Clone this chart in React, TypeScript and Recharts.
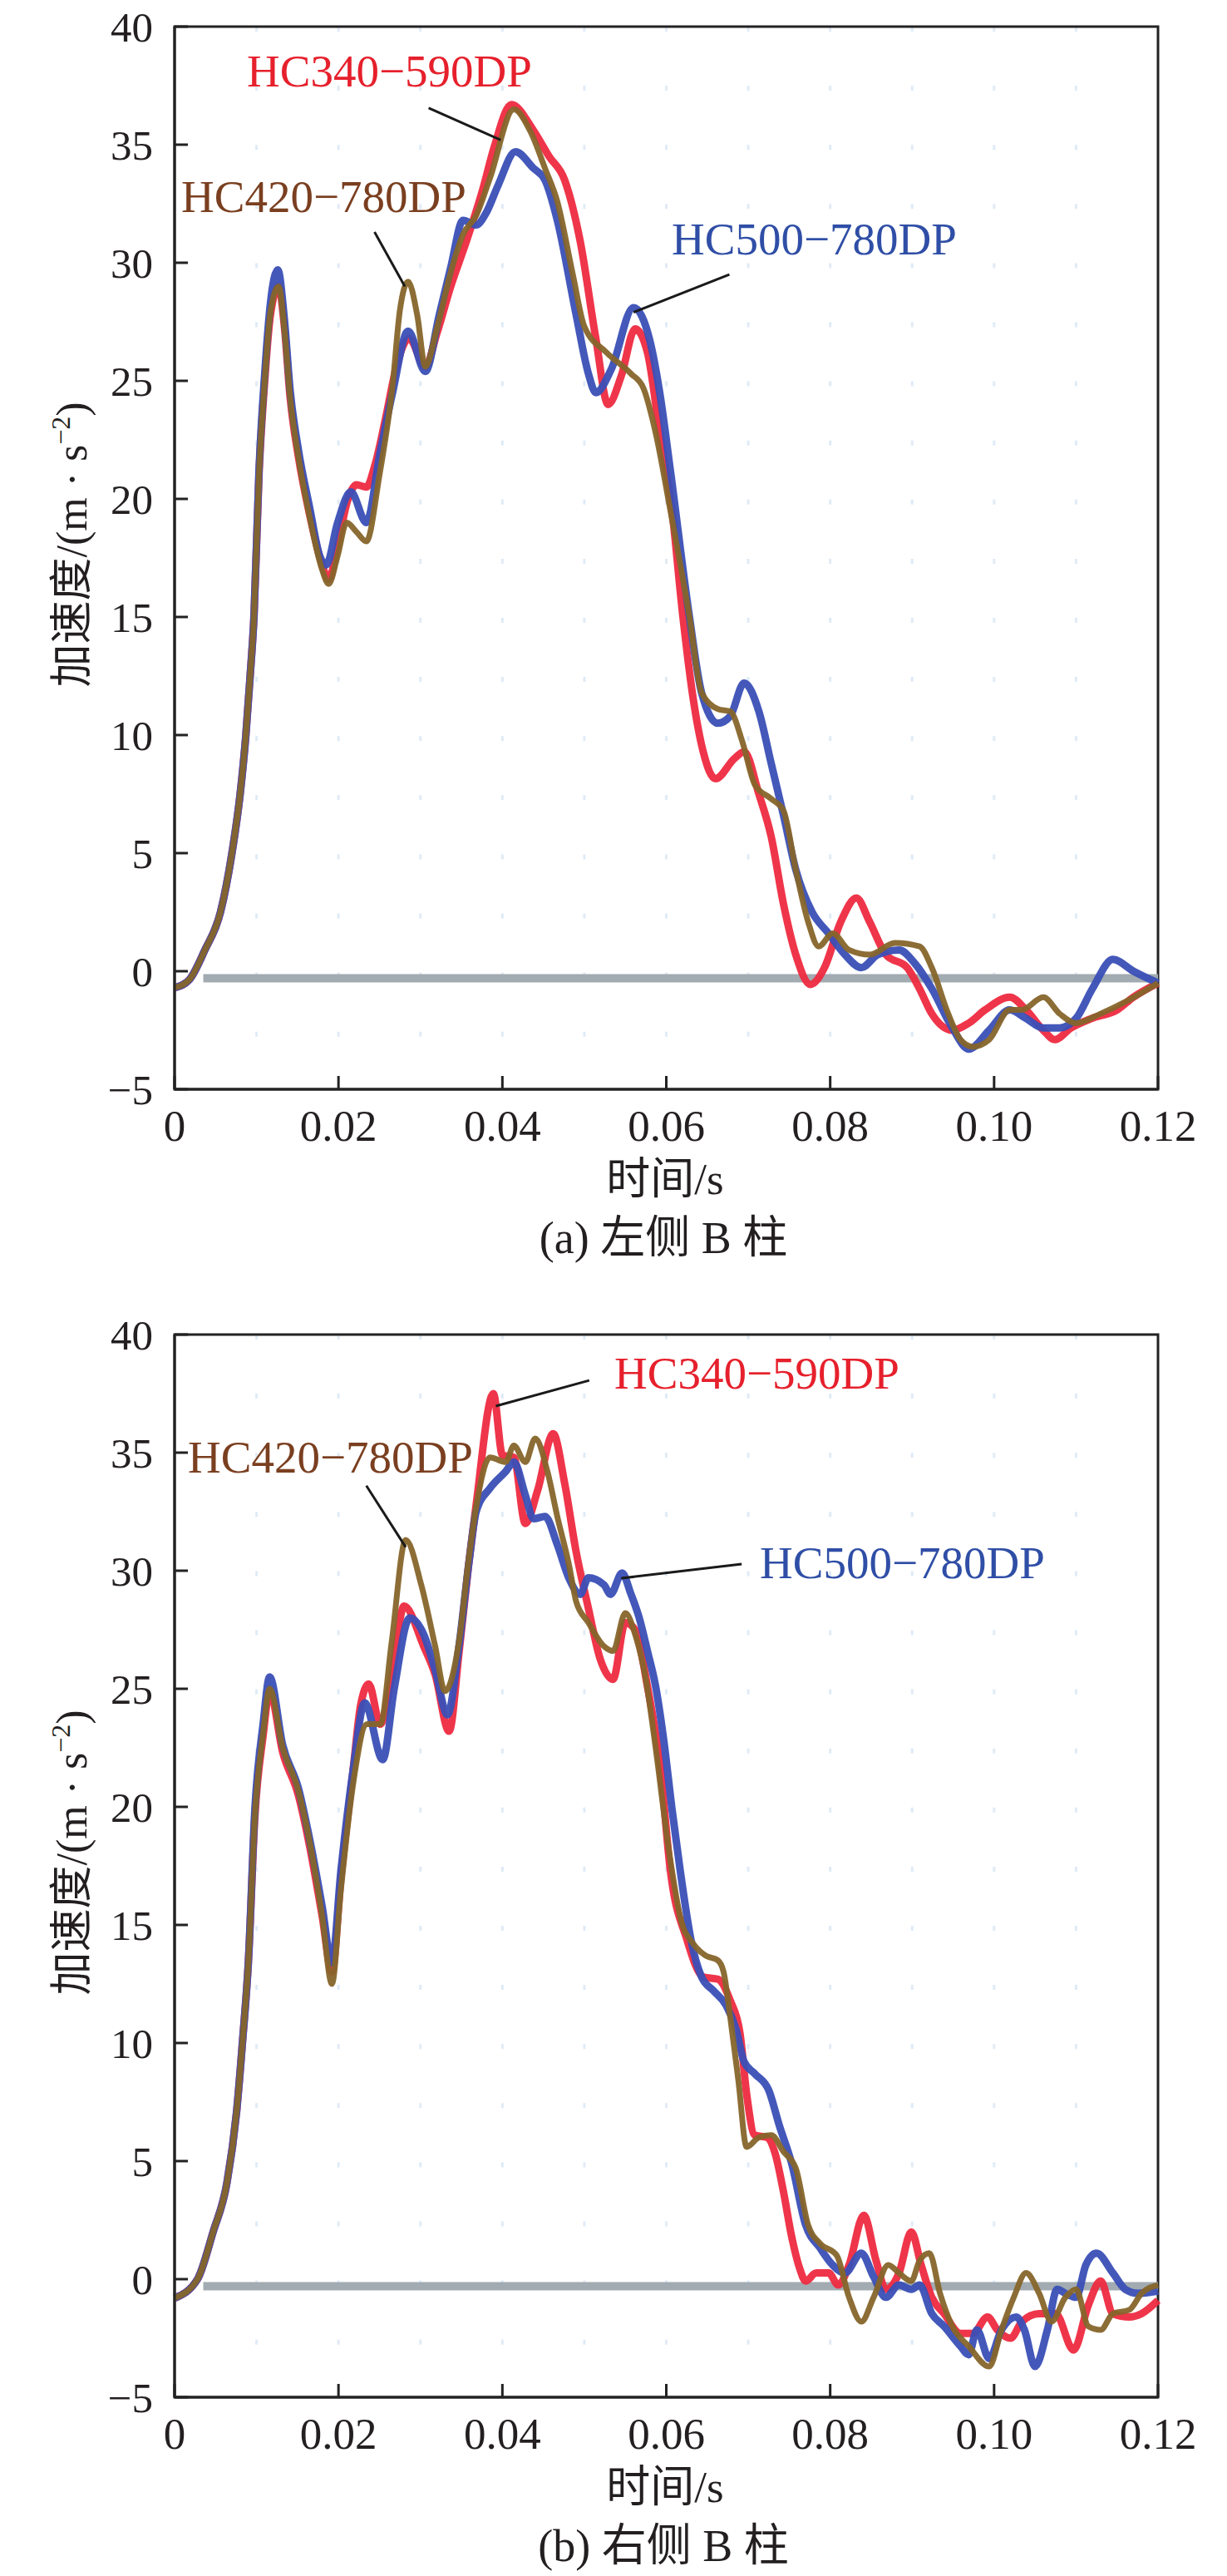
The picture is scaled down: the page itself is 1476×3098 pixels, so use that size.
import React from "react";
import { LineChart, Line, XAxis, YAxis, CartesianGrid, ReferenceLine, ReferenceArea } from "recharts";

// ---- axes ----
const xTicks = [0, 0.02, 0.04, 0.06, 0.08, 0.1, 0.12];
const xTickLabels = ["0", "0.02", "0.04", "0.06", "0.08", "0.10", "0.12"];
const yTicks = [-5, 0, 5, 10, 15, 20, 25, 30, 35, 40];
const gridT = [0.01, 0.02, 0.03, 0.04, 0.05, 0.06, 0.07, 0.08, 0.09, 0.1, 0.11];

// ---- series names ----
const names = ["HC340−590DP", "HC500−780DP", "HC420−780DP"];

// ---- zero reference (gray) ----
const zeroLine: [number, number][] = [[0.0035, -0.3], [0.12, -0.3]];

// ---- (a) left B pillar ----
const redA: [number, number][] = [
  [0, -0.7], [0.0018, -0.36], [0.0037, 0.9], [0.0056, 2.5], [0.007, 5.0], [0.008, 7.5], [0.0087, 10], [0.0092, 12.4],
  [0.0097, 15.1], [0.0103, 21.0], [0.011, 25.0], [0.0117, 27.8], [0.0127, 29.0], [0.0134, 27.3], [0.0141, 24.3],
  [0.0151, 21.8], [0.0165, 19.3], [0.018, 17.2], [0.0188, 16.6], [0.0199, 18.0], [0.021, 19.8], [0.0222, 20.6],
  [0.0234, 20.5], [0.0245, 21.5], [0.0258, 23.5], [0.027, 25.5], [0.0286, 26.8], [0.0306, 25.6], [0.032, 27.0],
  [0.0337, 29.0], [0.0356, 30.9], [0.0376, 33.1], [0.039, 34.9], [0.0411, 36.7], [0.0438, 35.6], [0.0457, 34.5],
  [0.0476, 33.5], [0.0495, 30.9], [0.0514, 26.8], [0.0529, 24.0], [0.0545, 25.2], [0.0562, 27.2], [0.0577, 26.2],
  [0.0592, 22.8], [0.0607, 19.5], [0.062, 15.1], [0.0633, 11.5], [0.0645, 9.3], [0.066, 8.15], [0.0683, 9.0],
  [0.0695, 9.3], [0.0713, 7.5], [0.0728, 5.7], [0.0743, 2.85], [0.0758, 0.7], [0.0776, -0.56], [0.0793, 0.15],
  [0.0813, 2.1], [0.0832, 3.1], [0.0848, 2.1], [0.0868, 0.7], [0.0894, 0.15], [0.0909, -0.74], [0.0924, -1.8],
  [0.0949, -2.5], [0.0969, -2.2], [0.0989, -1.64], [0.1019, -1.1], [0.1039, -1.64], [0.106, -2.5], [0.1074, -2.9],
  [0.1094, -2.4], [0.1119, -2.0], [0.115, -1.64], [0.117, -1.1], [0.12, -0.5],
];
const blueA: [number, number][] = [
  [0, -0.7], [0.0018, -0.36], [0.0037, 0.9], [0.0056, 2.5], [0.007, 5.0], [0.008, 7.5], [0.0087, 10], [0.0092, 12.4],
  [0.0097, 15.1], [0.0103, 21.2], [0.011, 25.3], [0.0117, 28.3], [0.0126, 29.7], [0.0134, 27.6], [0.0141, 24.6],
  [0.0151, 22.1], [0.0165, 19.6], [0.0177, 17.6], [0.0185, 17.2], [0.0199, 19.0], [0.0215, 20.3], [0.0234, 19.0],
  [0.0251, 22.0], [0.0266, 24.5], [0.0285, 27.1], [0.0306, 25.4], [0.0323, 27.8], [0.0337, 29.8], [0.0352, 31.8],
  [0.0368, 31.6], [0.038, 32.1], [0.0395, 33.3], [0.0416, 34.7], [0.0438, 34.0], [0.0452, 33.5], [0.0467, 31.8],
  [0.049, 27.8], [0.0505, 25.3], [0.0514, 24.5], [0.0533, 25.5], [0.056, 28.1], [0.058, 26.7], [0.0592, 24.5],
  [0.0605, 21.2], [0.0628, 15.07], [0.0643, 11.8], [0.0663, 10.5], [0.0678, 10.8], [0.0695, 12.2], [0.0713, 11.0],
  [0.0728, 8.8], [0.0743, 6.6], [0.0758, 4.3], [0.0778, 2.5], [0.0798, 1.6], [0.0818, 0.7], [0.0838, 0.15],
  [0.0858, 0.7], [0.0884, 0.9], [0.0904, 0.3], [0.0924, -0.74], [0.0949, -2.4], [0.0969, -3.3], [0.0994, -2.5],
  [0.1019, -1.64], [0.1039, -2.0], [0.106, -2.4], [0.108, -2.4], [0.11, -2.0], [0.112, -0.74], [0.1145, 0.5],
  [0.117, 0.0], [0.12, -0.5],
];
const brownA: [number, number][] = [
  [0, -0.7], [0.0018, -0.36], [0.0037, 0.9], [0.0056, 2.5], [0.007, 5.0], [0.008, 7.5], [0.0087, 10], [0.0092, 12.4],
  [0.0097, 15.1], [0.0103, 21.0], [0.011, 25.0], [0.0117, 27.9], [0.0127, 29.0], [0.0134, 27.2], [0.0141, 24.3],
  [0.0151, 21.8], [0.0165, 19.2], [0.018, 17.0], [0.0188, 16.4], [0.0199, 17.6], [0.021, 19.0], [0.0222, 18.6],
  [0.0234, 18.2], [0.025, 21.0], [0.0266, 24.8], [0.0275, 28.0], [0.0285, 29.2], [0.0296, 27.8], [0.0306, 25.6],
  [0.032, 27.2], [0.0337, 29.6], [0.0352, 31.2], [0.0368, 32.0], [0.0385, 33.6], [0.0414, 36.5], [0.0435, 35.5],
  [0.0452, 34.0], [0.0467, 32.6], [0.0486, 29.5], [0.05, 27.3], [0.0527, 26.2], [0.0557, 25.3], [0.0572, 24.7],
  [0.0587, 22.8], [0.0605, 19.5], [0.0628, 15.07], [0.0643, 11.8], [0.0663, 11.1], [0.0678, 11.0], [0.0693, 9.7],
  [0.0708, 7.9], [0.0728, 7.3], [0.0743, 6.8], [0.0758, 4.3], [0.0773, 2.1], [0.0786, 1.05], [0.0803, 1.6],
  [0.0823, 0.9], [0.0848, 0.7], [0.0879, 1.2], [0.0909, 1.05], [0.0924, 0.15], [0.0944, -1.8], [0.0959, -2.9],
  [0.0974, -3.2], [0.0994, -2.9], [0.1019, -1.64], [0.1034, -1.64], [0.106, -1.1], [0.108, -1.8], [0.11, -2.2],
  [0.113, -1.8], [0.116, -1.3], [0.12, -0.5],
];

// ---- (b) right B pillar ----
const redB: [number, number][] = [
  [0, -0.8], [0.0028, 0.0], [0.0047, 2.0], [0.0064, 4.1], [0.0076, 7.2], [0.0083, 10.1], [0.009, 13.4],
  [0.0098, 19.6], [0.0108, 23.0], [0.0116, 24.9], [0.0132, 22.3], [0.0151, 20.5], [0.0165, 18.3], [0.018, 15.4],
  [0.0192, 13.0], [0.0203, 17.0], [0.0218, 21.6], [0.0227, 24.3], [0.0237, 25.2], [0.0251, 23.5], [0.0265, 25.5],
  [0.028, 28.5], [0.0304, 26.8], [0.0318, 25.6], [0.0335, 23.2], [0.0347, 26.5], [0.0359, 30.3], [0.0368, 32.8],
  [0.0389, 37.5], [0.04, 34.9], [0.0414, 34.8], [0.0428, 32.0], [0.0443, 33.4], [0.0462, 35.8], [0.0476, 33.7],
  [0.049, 30.8], [0.0505, 28.4], [0.0519, 26.3], [0.0535, 25.4], [0.055, 27.8], [0.0562, 27.5], [0.0577, 25.1],
  [0.0593, 21.6], [0.0605, 17.3], [0.0625, 14.4], [0.0645, 12.8], [0.0663, 12.7], [0.0678, 11.8], [0.069, 10.4],
  [0.0698, 7.85], [0.0708, 6.1], [0.0723, 6.0], [0.0733, 5.3], [0.0743, 3.7], [0.0753, 1.8], [0.0763, 0.43],
  [0.077, -0.08], [0.0783, 0.26], [0.0798, 0.26], [0.081, -0.25], [0.0823, 0.6], [0.0841, 2.7], [0.0856, 0.78],
  [0.0868, -0.43], [0.0884, 0.26], [0.0899, 2.0], [0.0911, 0.6], [0.0924, -0.77], [0.0939, -1.46], [0.0959, -2.3],
  [0.0974, -2.3], [0.0992, -1.6], [0.1004, -2.15], [0.102, -2.5], [0.1034, -1.8], [0.1055, -1.46], [0.1075, -1.46],
  [0.1097, -3.0], [0.1115, -1.1], [0.113, -0.08], [0.1145, -1.46], [0.1165, -1.6], [0.118, -1.46], [0.12, -0.9],
];
const blueB: [number, number][] = [
  [0, -0.8], [0.0028, 0.0], [0.0047, 2.0], [0.0064, 4.1], [0.0076, 7.2], [0.0083, 10.1], [0.009, 13.4],
  [0.0098, 19.9], [0.0108, 23.5], [0.0116, 25.5], [0.0132, 22.6], [0.0151, 20.8], [0.0165, 18.6], [0.018, 15.8],
  [0.0192, 13.4], [0.0203, 17.3], [0.0218, 21.6], [0.0232, 24.4], [0.0254, 22.0], [0.0268, 25.0], [0.0287, 28.0],
  [0.0304, 27.3], [0.0318, 25.8], [0.0333, 23.9], [0.0347, 26.8], [0.0359, 30.3], [0.0368, 32.5], [0.0385, 33.5],
  [0.0404, 34.2], [0.0414, 34.6], [0.0428, 33.2], [0.0438, 32.2], [0.0452, 32.3], [0.0467, 31.1], [0.0481, 29.7],
  [0.0495, 29.0], [0.0505, 29.7], [0.0524, 29.4], [0.0532, 29.0], [0.0546, 29.9], [0.0557, 29.0], [0.0567, 28.0],
  [0.0577, 26.6], [0.0587, 25.1], [0.0597, 22.8], [0.0607, 19.9], [0.0617, 17.3], [0.063, 14.4], [0.0643, 12.8],
  [0.0658, 12.2], [0.0673, 11.6], [0.0685, 10.6], [0.0695, 9.2], [0.0708, 8.7], [0.0725, 8.0], [0.0738, 6.5],
  [0.0753, 4.9], [0.077, 2.3], [0.0788, 1.3], [0.0803, 0.6], [0.0818, 0.26], [0.0838, 1.1], [0.0853, 0.1],
  [0.0868, -0.77], [0.0884, -0.25], [0.0899, -0.43], [0.0909, -0.25], [0.0924, -1.46], [0.0939, -2.0],
  [0.0959, -2.84], [0.0969, -3.2], [0.0979, -2.15], [0.0994, -3.36], [0.1009, -2.15], [0.1027, -1.6],
  [0.1037, -2.15], [0.105, -3.7], [0.1065, -2.15], [0.1077, -0.43], [0.1087, -0.6], [0.11, -0.77], [0.1112, 0.6],
  [0.1125, 1.1], [0.1145, 0.26], [0.116, -0.43], [0.1175, -0.6], [0.12, -0.5],
];
const brownB: [number, number][] = [
  [0, -0.8], [0.0028, 0.0], [0.0047, 2.0], [0.0064, 4.1], [0.0076, 7.2], [0.0083, 10.1], [0.009, 13.4],
  [0.0098, 19.6], [0.0108, 23.1], [0.0116, 25.0], [0.0132, 22.5], [0.0151, 20.7], [0.0165, 18.5], [0.018, 15.4],
  [0.0192, 12.5], [0.0203, 16.5], [0.0218, 21.0], [0.0235, 23.5], [0.0251, 23.5], [0.0265, 27.0], [0.0282, 31.3],
  [0.0301, 29.4], [0.0318, 26.8], [0.033, 24.9], [0.0347, 27.0], [0.0359, 30.5], [0.0368, 32.7], [0.0385, 34.8],
  [0.0404, 34.6], [0.0414, 35.3], [0.0428, 34.6], [0.044, 35.6], [0.0455, 34.2], [0.0467, 32.3], [0.0481, 30.3],
  [0.049, 28.7], [0.0505, 27.8], [0.0524, 26.8], [0.0535, 26.6], [0.055, 28.2], [0.0562, 27.3], [0.0575, 25.4],
  [0.0587, 22.5], [0.0603, 18.2], [0.0618, 15.2], [0.0633, 14.2], [0.0648, 13.7], [0.0663, 13.5], [0.067, 13.0],
  [0.0678, 11.1], [0.0688, 8.4], [0.0698, 5.6], [0.0713, 6.0], [0.0728, 6.1], [0.0743, 5.4], [0.0758, 4.7],
  [0.0773, 2.3], [0.0788, 1.5], [0.0808, 1.0], [0.0823, -0.77], [0.0838, -1.8], [0.0853, -0.77], [0.0871, 0.6],
  [0.0884, 0.26], [0.0899, -0.08], [0.0909, 0.78], [0.0921, 1.1], [0.0934, -0.6], [0.0949, -2.0], [0.0969, -2.84],
  [0.0994, -3.7], [0.1009, -2.15], [0.1024, -0.77], [0.1039, 0.26], [0.1055, -0.6], [0.107, -1.8], [0.1087, -0.77],
  [0.11, -0.43], [0.1115, -2.0], [0.113, -2.15], [0.1145, -1.46], [0.1165, -1.3], [0.118, -0.6], [0.12, -0.25],
];

// ---- leader lines (data coordinates: [t1, a1, t2, a2]) for red, blue, brown ----
const leadersA: [number, number, number, number][] = [
  [0.031, 36.55, 0.0398, 35.2],
  [0.0677, 29.5, 0.056, 27.9],
  [0.0244, 31.3, 0.0281, 29.0],
];
const leadersB: [number, number, number, number][] = [
  [0.0392, 36.97, 0.0506, 38.06],
  [0.0692, 30.28, 0.0545, 29.68],
  [0.0234, 33.6, 0.0282, 31.0],
];

const captions = ["(a) 左侧 B 柱", "(b) 右侧 B 柱"];

const lineColors = ["#ee2a40", "#3a4fb6", "#86652a"];
const textColors = ["#e6202c", "#2f4ea6", "#7a3f20"];

const SERIF = "'Liberation Serif', 'Times New Roman', 'Noto Sans CJK SC', serif";

const toData = (p: [number, number][]) => p.map(([t, a]) => ({ t, a }));

type PanelProps = {
  top: number;
  red: [number, number][];
  blue: [number, number][];
  brown: [number, number][];
  leaders: [number, number, number, number][];
  labelPos: [number, number][]; // start x, baseline y for red, blue, brown
  caption: string;
};

const W = 1476;
const H = 1525;

function Panel({ top, red, blue, brown, leaders, labelPos, caption }: PanelProps) {
  const series = [red, blue, brown];
  const widths = [9, 9, 7];
  return (
    <div style={{ position: "absolute", left: 0, top, width: W, height: H }}>
      <LineChart width={W} height={H} margin={{ top: 32, right: 83, left: 130, bottom: 155 }}>
        <CartesianGrid
          horizontal={false}
          verticalValues={gridT}
          stroke="#e0ebf6"
          strokeWidth={3}
          strokeDasharray="6 65.1"
        />
        <XAxis
          dataKey="t"
          type="number"
          domain={[0, 0.12]}
          ticks={xTicks}
          tickFormatter={(v: number) => xTickLabels[xTicks.findIndex((x) => Math.abs(x - v) < 1e-9)] ?? String(v)}
          height={60}
          tickSize={-16}
          tickMargin={40}
          axisLine={{ stroke: "#222", strokeWidth: 3 }}
          tickLine={{ stroke: "#222", strokeWidth: 3 }}
          tick={{ fontFamily: SERIF, fontSize: 53, fill: "#231f20" }}
          interval={0}
        />
        <YAxis
          type="number"
          domain={[-5, 40]}
          ticks={yTicks}
          width={80}
          tickSize={-16}
          tickMargin={42}
          tickFormatter={(v: number) => (v < 0 ? "−" + Math.abs(v) : String(v))}
          axisLine={{ stroke: "#222", strokeWidth: 3 }}
          tickLine={{ stroke: "#222", strokeWidth: 3 }}
          tick={{ fontFamily: SERIF, fontSize: 51, fill: "#231f20" }}
          interval={0}
        />
        <ReferenceArea x1={0} x2={0.12} y1={-5} y2={40} fill="none" stroke="#222" strokeWidth={3} />
        <Line
          data={toData(zeroLine)}
          dataKey="a"
          type="linear"
          stroke="#a2abb1"
          strokeWidth={10}
          dot={false}
          isAnimationActive={false}
        />
        {series.map((s, i) => (
          <Line
            key={names[i]}
            name={names[i]}
            data={toData(s)}
            dataKey="a"
            type="monotone"
            stroke={lineColors[i]}
            strokeWidth={widths[i]}
            strokeOpacity={0.95}
            dot={false}
            isAnimationActive={false}
          />
        ))}
        {leaders.map((l, i) => (
          <ReferenceLine
            key={"ld" + i}
            segment={[
              { x: l[0], y: l[1] },
              { x: l[2], y: l[3] },
            ]}
            stroke="#1a1a1a"
            strokeWidth={3}
          />
        ))}
      </LineChart>
      <svg
        width={W}
        height={H}
        style={{ position: "absolute", left: 0, top: 0, pointerEvents: "none" }}
      >
        {labelPos.map((p, i) => (
          <text key={"lb" + i} x={p[0]} y={p[1]} fontFamily={SERIF} fontSize={55} fill={textColors[i]}>
            {names[i]}
          </text>
        ))}
        <text
          x={104}
          y={655}
          transform="rotate(-90, 104, 655)"
          textAnchor="middle"
          fontFamily={SERIF}
          fontSize={52}
          fill="#231f20"
        >
          加速度/(m · s
          <tspan dy={-20} fontSize={32}>−2</tspan>
          <tspan dy={20}>)</tspan>
        </text>
        <text x={800} y={1436} textAnchor="middle" fontFamily={SERIF} fontSize={53} fill="#231f20">
          时间/s
        </text>
        <text x={798} y={1507} textAnchor="middle" fontFamily={SERIF} fontSize={54} fill="#231f20">
          {caption}
        </text>
      </svg>
    </div>
  );
}

export default function App() {
  return (
    <div style={{ position: "absolute", left: 0, top: 0, width: W, height: 3098, background: "#fff" }}>
      <Panel
        top={0}
        red={redA}
        blue={blueA}
        brown={brownA}
        leaders={leadersA}
        labelPos={[[297, 104], [808, 306], [218, 255]]}
        caption={captions[0]}
      />
      <Panel
        top={1573}
        red={redB}
        blue={blueB}
        brown={brownB}
        leaders={leadersB}
        labelPos={[[739, 97], [914, 325], [226, 198]]}
        caption={captions[1]}
      />
    </div>
  );
}
